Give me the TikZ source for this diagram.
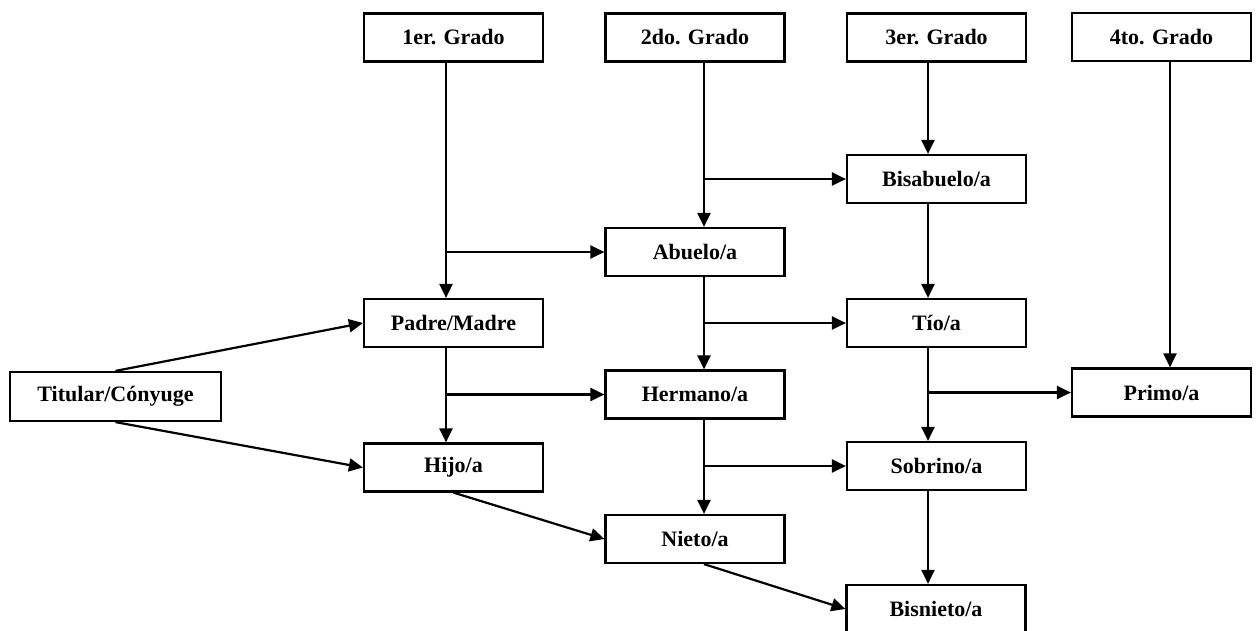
\documentclass[tikz,border=0pt]{standalone}
\usepackage{fontspec}
\setmainfont{Liberation Serif}
\usetikzlibrary{arrows.meta}
\begin{document}
\begin{tikzpicture}[x=1pt,y=-1pt,
  box/.style={draw,line width=2.2pt,minimum width=179pt,minimum height=48pt,inner sep=0pt,
    font=\fontsize{22}{24}\selectfont\bfseries},
  conn/.style={line width=2.2pt},
  arr/.style={conn,-{Triangle[length=14pt,width=13pt]}}]
\clip (0,0) rectangle (1258,630);
\fill[white] (0,0) rectangle (1258,630);
% columns for vertical connectors
\coordinate (c1) at (446,0);
\coordinate (c2) at (704,0);
\coordinate (c3) at (928,0);
\coordinate (c4) at (1170,0);
% nodes
\node[box] (g1) at (453.5,37.5) {1er. Grado};
\node[box] (g2) at (695,37.5) {2do. Grado};
\node[box] (g3) at (936.5,37.5) {3er. Grado};
\node[box] (g4) at (1161.5,37) {4to. Grado};
\node[box] (bisabuelo) at (936.5,179) {Bisabuelo/a};
\node[box] (abuelo) at (695,252) {Abuelo/a};
\node[box] (padre) at (453.5,323) {Padre/Madre};
\node[box] (tio) at (936.5,323) {Tío/a};
\node[box,minimum width=211pt,minimum height=49pt] (titular) at (115.5,396.5) {Titular/Cónyuge};
\node[box] (hermano) at (695,394.5) {Hermano/a};
\node[box] (primo) at (1161.5,392.5) {Primo/a};
\node[box] (hijo) at (453.5,467.5) {Hijo/a};
\node[box] (sobrino) at (936.5,466) {Sobrino/a};
\node[box] (nieto) at (695,539) {Nieto/a};
\node[box] (bisnieto) at (936,609) {Bisnieto/a};
% vertical connectors
\draw[arr] (c1 |- g1.south) -- (c1 |- padre.north);
\draw[arr] (c1 |- padre.south) -- (c1 |- hijo.north);
\draw[arr] (c2 |- g2.south) -- (c2 |- abuelo.north);
\draw[arr] (c2 |- abuelo.south) -- (c2 |- hermano.north);
\draw[arr] (c2 |- hermano.south) -- (c2 |- nieto.north);
\draw[arr] (c3 |- g3.south) -- (c3 |- bisabuelo.north);
\draw[arr] (c3 |- bisabuelo.south) -- (c3 |- tio.north);
\draw[arr] (c3 |- tio.south) -- (c3 |- sobrino.north);
\draw[arr] (c3 |- sobrino.south) -- (c3 |- bisnieto.north);
\draw[arr] (c4 |- g4.south) -- (c4 |- primo.north);
% horizontal branches
\draw[arr] (c1 |- abuelo.west) -- (abuelo.west);
\draw[arr] (c1 |- hermano.west) -- (hermano.west);
\draw[arr] (c2 |- bisabuelo.west) -- (bisabuelo.west);
\draw[arr] (c2 |- tio.west) -- (tio.west);
\draw[arr] (c2 |- sobrino.west) -- (sobrino.west);
\draw[arr] (c3 |- primo.west) -- (primo.west);
% diagonals
\draw[arr] (titular.north) -- (padre.west);
\draw[arr] (titular.south) -- (hijo.west);
\draw[arr] (hijo.south) -- (nieto.west);
\draw[arr] (c2 |- nieto.south) -- (bisnieto.west);
\end{tikzpicture}
\end{document}
